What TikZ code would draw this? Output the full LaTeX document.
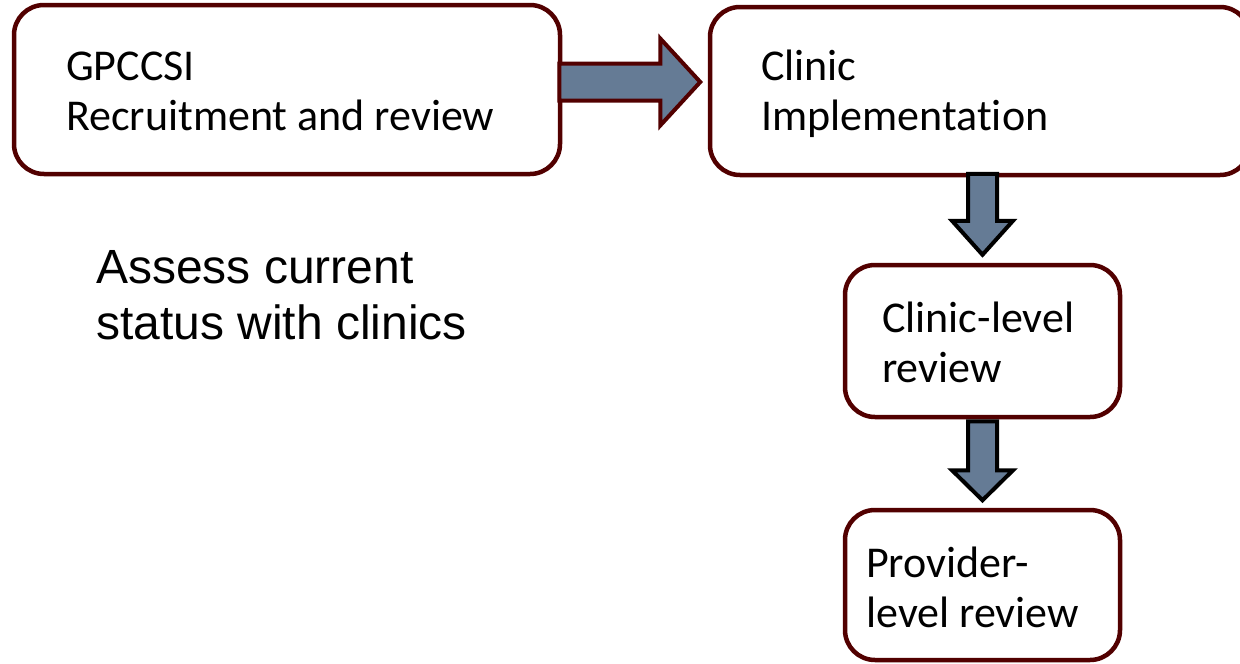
\documentclass[tikz,border=0pt]{standalone}
\usepackage{fontspec}
\setmainfont{Carlito}[Ligatures=NoCommon]
\newfontfamily\arialfont{Liberation Sans}
\usetikzlibrary{calc}
\definecolor{boxline}{HTML}{520000}
\definecolor{steel}{HTML}{657B95}
\tikzset{
  stagebox/.style={draw=boxline, line width=4.5pt, rounded corners=30pt, fill=white,
    inner sep=0pt},
  boxtext/.style={anchor=base west, align=left, inner sep=0pt,
    font=\fontsize{44}{50}\selectfont},
  rightblock/.style={draw=boxline, line width=4pt, fill=steel, line join=miter},
  downblock/.style={draw=black, line width=4pt, fill=steel, line join=miter},
}
\begin{document}
\begin{tikzpicture}[x=1pt, y=-1pt]
  \useasboundingbox (0,0) rectangle (1240,664);
  \begin{scope}
    \clip (0,0) rectangle (1240,664);
    % process stages
    \node[stagebox, minimum width=546pt, minimum height=169pt] (b1) at (287,89.5) {};
    \node[stagebox, minimum width=540pt, minimum height=168pt] (b2) at (980,91) {};
    \node[stagebox, minimum width=275pt, minimum height=152pt] (b3) at (982.5,341) {};
    \node[stagebox, minimum width=275pt, minimum height=150pt] (b4) at (982.5,585) {};

    % stage labels (anchored at the baseline of the last line)
    \node[boxtext] (t1) at (66,130) {GPCCSI\\Recruitment and review};
    \node[boxtext] (t2) at (761,130) {Clinic\\Implementation};
    \node[boxtext] (t3) at (882,382) {Clinic-level\\review};
    \node[boxtext] (t4) at (866,627) {Provider-\\level review};

    \node[anchor=base west, align=left, inner sep=0pt,
      font=\arialfont\fontsize{48}{56}\selectfont] (note) at (96,339)
      {Assess current\\status with clinics};

    % block arrows between stages
    \draw[rightblock] ($(b1.east)+(-3,-26)$) -- ++(101,0) -- ++(0,-25)
      -- ++(40,43.5) -- ++(-40,43.5) -- ++(0,-25) -- ++(-101,0) -- cycle;
    \draw[downblock] ($(b3.north)+(-14.5,-89)$) -- ++(29,0) -- ++(0,47)
      -- ++(16,0) -- ++(-30.5,34) -- ++(-30.5,-34) -- ++(16,0) -- cycle;
    \draw[downblock] ($(b3.south)+(-14.5,2)$) -- ++(29,0) -- ++(0,49)
      -- ++(16,0) -- ++(-30.5,30) -- ++(-30.5,-30) -- ++(16,0) -- cycle;
  \end{scope}
\end{tikzpicture}
\end{document}
